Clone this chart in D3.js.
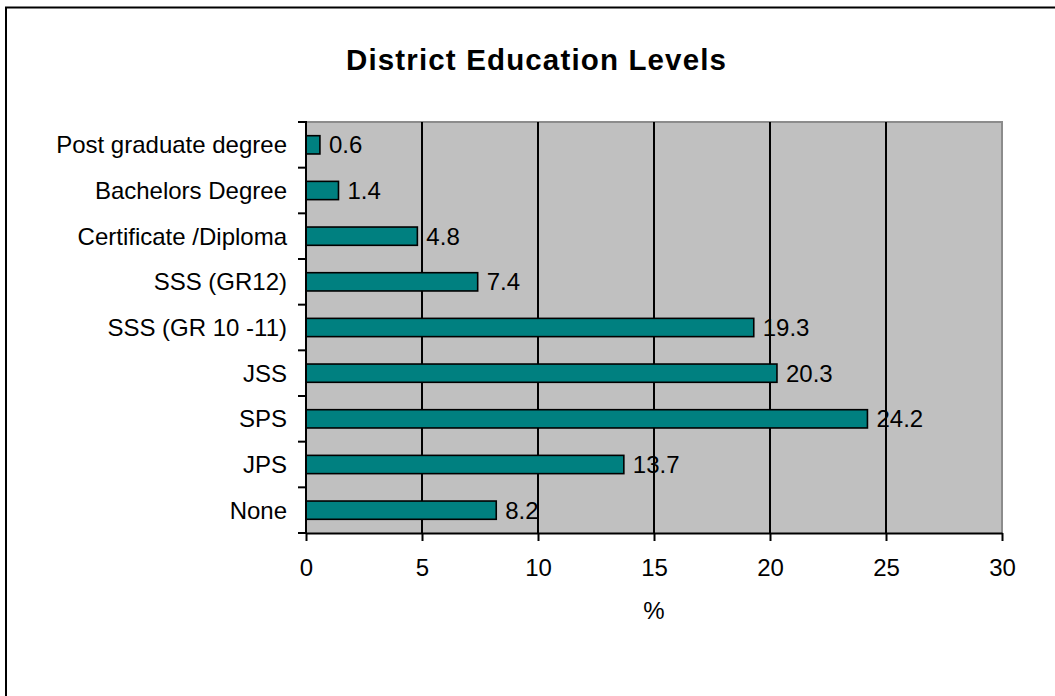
<!DOCTYPE html>
<html>
<head>
<meta charset="utf-8">
<script src="https://cdn.jsdelivr.net/npm/d3@7"></script>
<style>
  html, body { margin: 0; padding: 0; background: #fff; }
  svg { display: block; font-family: Arial, "Liberation Sans", sans-serif; }
</style>
</head>
<body>
<svg id="chart" width="1055" height="696"></svg>
<script>
// Education levels, bottom to top as drawn on the y axis
const categories = ["None", "JPS", "SPS", "JSS", "SSS (GR 10 -11)", "SSS (GR12)",
  "Certificate /Diploma", "Bachelors Degree", "Post graduate degree"];
const percentages = [8.2, 13.7, 24.2, 20.3, 19.3, 7.4, 4.8, 1.4, 0.6];
const xTicks = [0, 5, 10, 15, 20, 25, 30];
const titleText = "District Education Levels";
const xAxisTitle = "%";

const svg = d3.select("#chart");
const plot = { left: 306, right: 1002, top: 122, bottom: 533 };

// outer chart frame (runs off the right and bottom edges)
svg.append("rect")
  .attr("x", 6).attr("y", 7.5)
  .attr("width", 1200).attr("height", 900)
  .attr("fill", "none").attr("stroke", "#000").attr("stroke-width", 2);

const x = d3.scaleLinear().domain([0, 30]).range([plot.left, plot.right]);
const y = d3.scaleBand()
  .domain(categories.slice().reverse())
  .range([plot.top, plot.bottom])
  .paddingInner(0.6).paddingOuter(0.3);
const yBand = d3.scaleBand()
  .domain(categories.slice().reverse())
  .range([plot.top, plot.bottom]);

// plot background
svg.append("rect")
  .attr("x", plot.left).attr("y", plot.top)
  .attr("width", plot.right - plot.left).attr("height", plot.bottom - plot.top)
  .attr("fill", "#c0c0c0");

// plot border (top and right)
svg.append("path")
  .attr("d", `M${plot.left},${plot.top}H${plot.right}V${plot.bottom}`)
  .attr("fill", "none").attr("stroke", "#8c8c8c").attr("stroke-width", 2);

// vertical gridlines
svg.append("g").selectAll("line")
  .data(xTicks.filter(t => t > 0 && t < 30))
  .join("line")
  .attr("x1", d => x(d)).attr("x2", d => x(d))
  .attr("y1", plot.top).attr("y2", plot.bottom)
  .attr("stroke", "#000").attr("stroke-width", 2);

// bars
svg.append("g").selectAll("rect")
  .data(categories.map((c, i) => ({ c, v: percentages[i] })))
  .join("rect")
  .attr("x", x(0))
  .attr("y", d => y(d.c))
  .attr("width", d => x(d.v) - x(0))
  .attr("height", y.bandwidth())
  .attr("fill", "#008080")
  .attr("stroke", "#000").attr("stroke-width", 1.6);

// value labels
svg.append("g").selectAll("text")
  .data(categories.map((c, i) => ({ c, v: percentages[i] })))
  .join("text")
  .attr("x", d => x(d.v) + 9)
  .attr("y", d => yBand(d.c) + yBand.bandwidth() / 2)
  .attr("dy", "0.35em")
  .attr("font-size", 24)
  .attr("fill", "#000")
  .text(d => d.v.toFixed(1));

// x axis
const xAxis = svg.append("g")
  .attr("transform", `translate(0,${plot.bottom})`)
  .call(d3.axisBottom(x).tickValues(xTicks).tickSize(8).tickPadding(18).tickSizeOuter(0));
xAxis.select(".domain").attr("stroke", "#000").attr("stroke-width", 2);
xAxis.selectAll(".tick line").attr("stroke", "#000").attr("stroke-width", 2);
xAxis.selectAll(".tick text")
  .attr("font-size", 24).attr("font-family", "Arial, 'Liberation Sans', sans-serif")
  .attr("fill", "#000");

// y axis: ticks sit on the band boundaries
const yAxisG = svg.append("g").attr("transform", `translate(${plot.left},0)`);
yAxisG.append("line")
  .attr("x1", 0).attr("x2", 0).attr("y1", plot.top - 1).attr("y2", plot.bottom + 1)
  .attr("stroke", "#000").attr("stroke-width", 2);
const boundaries = yBand.domain().map(c => yBand(c)).concat([plot.bottom]);
yAxisG.selectAll("line.tick")
  .data(boundaries)
  .join("line")
  .attr("class", "tick")
  .attr("x1", -8).attr("x2", 0)
  .attr("y1", d => d).attr("y2", d => d)
  .attr("stroke", "#000").attr("stroke-width", 2);
yAxisG.selectAll("text")
  .data(categories)
  .join("text")
  .attr("x", -19)
  .attr("y", d => yBand(d) + yBand.bandwidth() / 2)
  .attr("dy", "0.35em")
  .attr("text-anchor", "end")
  .attr("font-size", 24)
  .attr("fill", "#000")
  .text(d => d);

// axis title
svg.append("text")
  .attr("x", 654).attr("y", 619)
  .attr("text-anchor", "middle")
  .attr("font-size", 24)
  .text(xAxisTitle);

// chart title
svg.append("text")
  .attr("x", 536).attr("y", 70)
  .attr("text-anchor", "middle")
  .attr("font-size", 29.5)
  .attr("font-weight", "bold")
  .attr("textLength", 380)
  .attr("lengthAdjust", "spacing")
  .text(titleText);
</script>
</body>
</html>
